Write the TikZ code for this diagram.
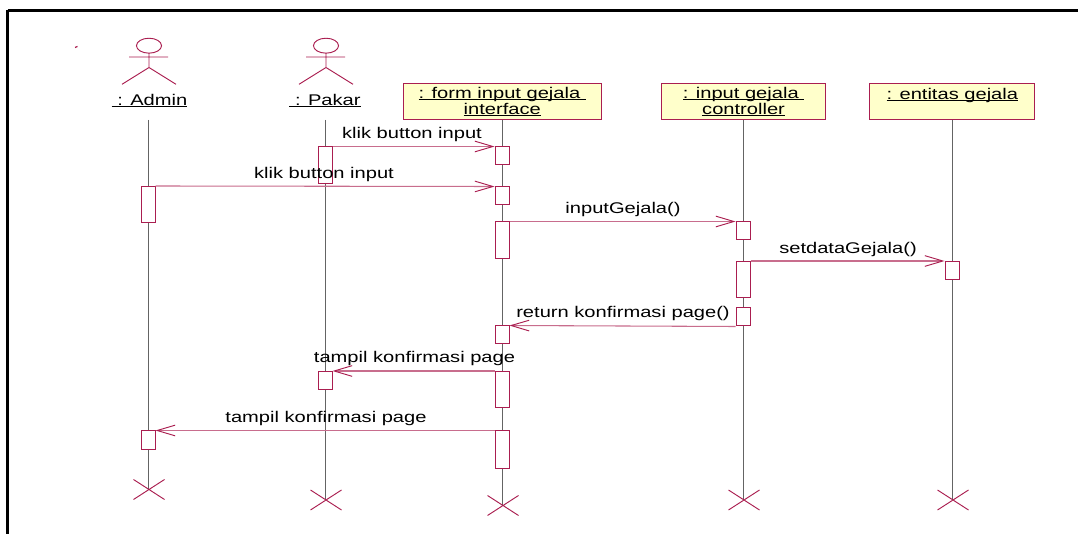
\documentclass[tikz,border=0pt]{standalone}
\usepackage{fontspec}
\usetikzlibrary{arrows.meta}
\setmainfont[FakeStretch=1.3]{Liberation Sans}
\definecolor{umlred}{RGB}{170,30,80}
\definecolor{umlfill}{RGB}{255,255,203}
\definecolor{lifegray}{RGB}{100,100,100}
\tikzset{
 x=0.75pt,y=-0.75pt,
 objbox/.style={draw=umlred,fill=umlfill,line width=0.8pt,minimum height=27pt,inner sep=0pt,align=center,font=\fontsize{11.6}{12}\selectfont,anchor=north west},
 lbl/.style={inner sep=0pt,font=\fontsize{11.6}{12}\selectfont,text=black},
 act/.style={draw=umlred,fill=white,line width=0.75pt,minimum width=10.5pt,inner sep=0pt,anchor=north},
 life/.style={draw=lifegray,line width=0.8pt},
 msg/.style={draw=umlred!65,line width=0.8pt,-{Straight Barb[length=13.5pt,width=8pt,line width=0.7pt,color=umlred]}},
 actorline/.style={draw=umlred,line width=0.7pt},
}
\newcommand{\actact}[3]{\node[act,minimum height=#3*0.75pt] (#1) at #2 {};}
\newcommand{\ulin}[1]{\setbox0=\hbox{#1}\rlap{\rule[-0.9pt]{\wd0}{0.7pt}}\box0 }
\newcommand{\umlactor}[1]{%
 \draw[actorline] (#1,45.7) ellipse [x radius=9.4pt,y radius=5.6pt];
 \draw[actorline] (#1-20,57) -- (#1+19,57) (#1,53) -- (#1,67.5) (#1-27,84.3) -- (#1,67.5) -- (#1+27,84.3);
}
\newcommand{\umlcross}[2]{\draw[actorline] (#1-15.5,#2-10) -- (#1+15.5,#2+10) (#1-15.5,#2+10) -- (#1+15.5,#2-10);}
\begin{document}
\begin{tikzpicture}
\useasboundingbox (0,0) rectangle (1078,534);
\fill[white] (0,0) rectangle (1078,534);
\draw[black,line width=2.3pt] (7.5,10.5) -- (1078,10.5) (7.5,10.5) -- (7.5,534);
% lifelines
\coordinate (tA) at (148.5,120); \coordinate (bA) at (148.5,490);
\coordinate (tP) at (325.5,120); \coordinate (bP) at (325.5,500);
\coordinate (tF) at (502.5,120); \coordinate (bF) at (502.5,506);
\coordinate (tC) at (743.5,120); \coordinate (bC) at (743.5,500);
\coordinate (tE) at (952.5,120); \coordinate (bE) at (952.5,500);
\foreach \n in {A,P,F,C,E} \draw[life] (t\n) -- (b\n);
% actors
\umlactor{149}
\umlactor{326}
\draw[umlred,line width=0.9pt] (75,47.5) -- (77.5,46.5);
\node[lbl] (lA) at (149.5,101) {\ulin{\ : Admin}};
\node[lbl] (lP) at (325,101) {\ulin{\ : Pakar}};
% objects
\node[objbox,minimum width=148.5pt] (oF) at (402.7,83.3) {\ulin{: form input gejala\ }\\\ulin{interface}};
\node[objbox,minimum width=123.5pt] (oC) at (660.7,83.3) {\ulin{: input gejala\ }\\\ulin{controller}};
\node[objbox,minimum width=123.7pt] (oE) at (869.3,83.3) {\ulin{: entitas gejala}\\\ };
% activations
\actact{a1}{(325,146.5)}{36.5}
\actact{a2}{(148,186)}{36.5}
\actact{f1}{(502,146.5)}{18}
\actact{f2}{(502,186.5)}{18}
\actact{f3}{(502,221.5)}{36.5}
\actact{c1}{(743,221.5)}{18}
\actact{c2}{(743,261)}{36.5}
\actact{e1}{(952,261)}{18}
\actact{c3}{(743,307.5)}{18}
\actact{f4}{(502,325.5)}{18}
\actact{f5}{(502,371)}{36.5}
\actact{a3}{(325,371)}{18}
\actact{f6}{(502,430.5)}{37}
\actact{a4}{(148,430.5)}{18}
% messages
\draw[msg] (a1.north east) -- (f1.north west);
\node[lbl] (m1) at (412,134.5) {klik button input};
\draw[msg] (a2.north east) -- (f2.north west);
\node[lbl] (m2) at (324,174.5) {klik button input};
\draw[msg] (f3.north east) -- (c1.north west);
\node[lbl] (m3) at (623,209.5) {inputGejala()};
\draw[msg] (c2.north east) -- (e1.north west);
\node[lbl] (m4) at (848,249.5) {setdataGejala()};
\draw[msg] (c3.south west) -- (f4.north east);
\node[lbl] (m5) at (623,314) {return konfirmasi page()};
\draw[msg] (f5.north west) -- (a3.north east);
\node[lbl] (m6) at (414.5,358.5) {tampil konfirmasi page};
\draw[msg] (f6.north west) -- (a4.north east);
\node[lbl] (m7) at (326,419) {tampil konfirmasi page};
% terminators
\umlcross{149}{489.5}
\umlcross{326}{500}
\umlcross{503}{505.5}
\umlcross{744}{500}
\umlcross{953}{500}
\end{tikzpicture}
\end{document}
